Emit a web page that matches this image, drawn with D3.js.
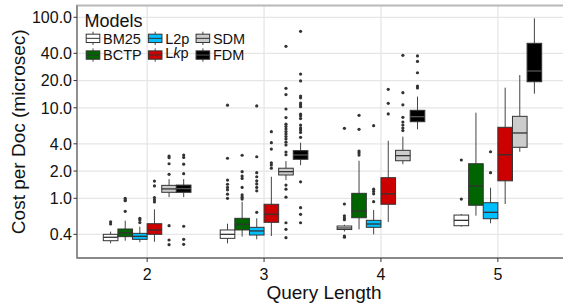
<!DOCTYPE html>
<html>
<head>
<meta charset="utf-8">
<script src="https://cdn.jsdelivr.net/npm/d3@7"></script>
<style>
  body { margin: 0; background: #fff; }
  text { font-family: "Liberation Sans", Arial, sans-serif; fill: #111; }
</style>
</head>
<body>
<svg id="chart" width="563" height="305"></svg>
<script>
// query lengths on the x axis, models dodged inside each one
var lengths = ["2", "3", "4", "5"];
var models = ["BM25", "BCTP", "L2p", "Lkp", "SDM", "FDM"];
var fills = ["#ffffff", "#006400", "#00bfff", "#cc0000", "#cccccc", "#000000"];
var yTicks = [0.4, 1, 2, 4, 10, 20, 40, 100];

// box stats per query length: [lower whisker, q1, median, q3, upper whisker]
var bm25 = [[0.318, 0.340, 0.371, 0.400, 0.428], [0.318, 0.361, 0.400, 0.447, 0.524],
            [0.430, 0.452, 0.470, 0.494, 0.510], [0.487, 0.498, 0.571, 0.653, 0.670]];
var bctp = [[0.340, 0.377, 0.417, 0.458, 0.566], [0.377, 0.447, 0.516, 0.601, 0.917],
            [0.454, 0.610, 0.724, 1.135, 2.60], [0.643, 0.838, 1.37, 2.41, 8.83]];
var l2p  = [[0.327, 0.352, 0.380, 0.410, 0.486], [0.352, 0.393, 0.436, 0.478, 0.601],
            [0.400, 0.478, 0.520, 0.571, 0.743], [0.530, 0.595, 0.700, 0.894, 1.31]];
var lkp  = [[0.331, 0.400, 0.447, 0.524, 0.755], [0.383, 0.543, 0.666, 0.859, 1.73],
            [0.547, 0.859, 1.12, 1.69, 4.33], [0.865, 1.56, 3.03, 6.09, 16.7]];
var sdm  = [[1.03, 1.165, 1.27, 1.39, 1.63], [1.59, 1.81, 1.97, 2.15, 2.58],
            [2.38, 2.60, 2.96, 3.39, 4.8], [3.27, 3.66, 5.27, 8.05, 23.0]];
var fdm  = [[1.03, 1.165, 1.28, 1.40, 1.63], [2.32, 2.70, 3.01, 3.36, 4.12],
            [5.78, 7.02, 7.98, 9.38, 13.3], [14.3, 19.4, 25.5, 51.6, 97.5]];

// outliers per query length
var bm25Out = [[0.551, 0.520], [10.7, 2.77, 1.59, 1.43, 1.32, 1.24, 1.11, 1.0],
               [5.93, 0.865, 0.64, 0.606, 0.58, 0.383, 0.372], [2.65, 0.98]];
var bctpOut = [[0.718, 1.0, 0.96, 0.94], [2.99, 1.97, 1.76, 1.66, 1.32, 1.09, 1.03, 0.98],
               [8.26, 5.78, 3.33, 3.18, 3.0], []];
var l2pOut  = [[0.601, 0.577, 0.54], [10.5, 2.88, 1.92, 1.73, 1.56, 1.44, 1.32, 1.21, 0.70],
               [6.34, 1.26, 1.19, 1.12, 0.917], [3.27, 1.92]];
var lkpOut  = [[1.55, 1.37, 1.02, 0.96, 0.91], [5.45, 4.12, 3.5, 2.47, 2.34, 2.15],
               [16.0, 11.2, 8.55], []];
var sdmOut  = [[2.93, 2.81, 2.41, 1.84, 0.498, 0.346, 0.307],
               [47.8, 16.4, 14.0, 9.7, 7.8, 6.6, 6.2, 5.83, 5.46, 5.14, 4.82, 4.52, 4.17, 3.88, 3.25, 3.03,
                1.40, 1.26, 1.03, 0.537, 0.454, 0.367],
               [38.0, 14.7, 10.8, 7.85, 6.97, 6.46, 5.98, 5.6], []];
var fdmOut  = [[3.0, 2.83, 2.38, 1.87, 0.491, 0.352, 0.31],
               [70.0, 23.6, 19.8, 13.5, 12.9, 11.3, 10.8, 10.3, 8.5, 8.1, 7.6, 6.45, 6.0, 5.7, 5.34, 4.72,
                1.52, 0.787, 0.666, 0.537],
               [37.4, 32.5, 24.4, 17.4, 16.6], []];

var stats = [bm25, bctp, l2p, lkp, sdm, fdm];
var outs = [bm25Out, bctpOut, l2pOut, lkpOut, sdmOut, fdmOut];

(function () {
    var svg = d3.select("#chart");
    var left = 77, right = 568, top = 5.5, bottom = 258;

    var x = d3.scalePoint().domain(lengths).range([left, right]).padding(0.6);
    var step = x.step();
    var dodge = d3.scaleBand().domain(models).range([-0.375 * step, 0.375 * step]);
    var y = d3.scaleLog().domain([0.219, 135]).range([bottom, top]);

    // grid
    svg.append("g").selectAll("line.h").data(yTicks).enter().append("line")
        .attr("x1", left).attr("x2", right)
        .attr("y1", function (d) { return y(d); }).attr("y2", function (d) { return y(d); })
        .attr("stroke", "#e6e6e6").attr("stroke-width", 1.3);
    svg.append("g").selectAll("line.v").data(lengths).enter().append("line")
        .attr("x1", function (d) { return x(d); }).attr("x2", function (d) { return x(d); })
        .attr("y1", top).attr("y2", bottom)
        .attr("stroke", "#e6e6e6").attr("stroke-width", 1.3);

    svg.append("rect").attr("x", left).attr("y", top)
        .attr("width", right - left).attr("height", bottom - top)
        .attr("fill", "none").attr("stroke", "#b8b8b8").attr("stroke-width", 2);

    // boxes
    var rows = [];
    models.forEach(function (m, mi) {
        lengths.forEach(function (l, li) {
            rows.push({model: m, mi: mi, len: l, s: stats[mi][li], out: outs[mi][li]});
        });
    });
    var bw = dodge.bandwidth();
    var g = svg.append("g").selectAll("g").data(rows).enter().append("g")
        .attr("transform", function (d) { return "translate(" + (x(d.len) + dodge(d.model)) + ",0)"; });

    g.append("line").attr("x1", bw / 2).attr("x2", bw / 2)
        .attr("y1", function (d) { return y(d.s[0]); }).attr("y2", function (d) { return y(d.s[1]); })
        .attr("stroke", "#444");
    g.append("line").attr("x1", bw / 2).attr("x2", bw / 2)
        .attr("y1", function (d) { return y(d.s[3]); }).attr("y2", function (d) { return y(d.s[4]); })
        .attr("stroke", "#444");
    g.append("rect").attr("x", 0).attr("width", bw)
        .attr("y", function (d) { return y(d.s[3]); })
        .attr("height", function (d) { return y(d.s[1]) - y(d.s[3]); })
        .attr("fill", function (d) { return fills[d.mi]; })
        .attr("stroke", "#333").attr("stroke-width", 1);
    g.append("line").attr("x1", 0).attr("x2", bw)
        .attr("y1", function (d) { return y(d.s[2]); }).attr("y2", function (d) { return y(d.s[2]); })
        .attr("stroke", function (d) { return d.mi == 5 ? "#555" : "#333"; }).attr("stroke-width", 1.3);
    g.selectAll("circle").data(function (d) { return d.out; }).enter().append("circle")
        .attr("cx", bw / 2).attr("cy", function (d) { return y(d); })
        .attr("r", 1.6).attr("fill", "#333");

    // axes
    svg.append("line").attr("x1", left).attr("x2", right).attr("y1", bottom).attr("y2", bottom)
        .attr("stroke", "#7a7a7a").attr("stroke-width", 1.3);
    svg.append("line").attr("x1", left).attr("x2", left).attr("y1", top).attr("y2", bottom)
        .attr("stroke", "#7a7a7a").attr("stroke-width", 1.3);

    svg.append("g").selectAll("line").data(yTicks).enter().append("line")
        .attr("x1", left - 3.5).attr("x2", left)
        .attr("y1", function (d) { return y(d); }).attr("y2", function (d) { return y(d); })
        .attr("stroke", "#333");
    svg.append("g").selectAll("text").data(yTicks).enter().append("text")
        .text(function (d) { return d3.format(".1f")(d); })
        .attr("x", left - 5).attr("y", function (d) { return y(d); })
        .attr("dy", "0.36em").attr("text-anchor", "end").style("font-size", "16px");

    svg.append("g").selectAll("line").data(lengths).enter().append("line")
        .attr("x1", function (d) { return x(d); }).attr("x2", function (d) { return x(d); })
        .attr("y1", bottom).attr("y2", bottom + 4)
        .attr("stroke", "#333");
    svg.append("g").selectAll("text").data(lengths).enter().append("text")
        .text(function (d) { return d; })
        .attr("x", function (d) { return x(d); }).attr("y", bottom + 22)
        .attr("text-anchor", "middle").style("font-size", "16px");

    svg.append("text").text("Query Length")
        .attr("x", (left + 563) / 2 + 4).attr("y", 298.5)
        .attr("text-anchor", "middle").style("font-size", "19px");
    svg.append("text").text("Cost per Doc (microsec)")
        .attr("transform", "translate(25," + ((top + bottom) / 2) + ") rotate(-90)")
        .attr("text-anchor", "middle").style("font-size", "19px");

    // legend
    var leg = svg.append("g");
    leg.append("text").text("Models").attr("x", 84.5).attr("y", 26.7).style("font-size", "18px");
    var keyW = 17, keyH = 16.7, colX = 84.5;
    var ncol = Math.ceil(models.length / 2);
    for (var c = 0; c < ncol; c++) {
        var maxW = 0;
        for (var r = 0; r < 2; r++) {
            var i = c * 2 + r;
            var ky = 30 + r * keyH;
            var k = leg.append("g").attr("transform", "translate(" + colX + "," + ky + ")");
            k.append("line").attr("x1", keyW / 2).attr("x2", keyW / 2).attr("y1", keyH * 0.1).attr("y2", keyH * 0.25).attr("stroke", "#444");
            k.append("line").attr("x1", keyW / 2).attr("x2", keyW / 2).attr("y1", keyH * 0.75).attr("y2", keyH * 0.9).attr("stroke", "#444");
            k.append("rect").attr("x", keyW * 0.1).attr("width", keyW * 0.8)
                .attr("y", keyH * 0.25).attr("height", keyH * 0.5)
                .attr("fill", fills[i]).attr("stroke", "#333");
            k.append("line").attr("x1", keyW * 0.1).attr("x2", keyW * 0.9).attr("y1", keyH / 2).attr("y2", keyH / 2)
                .attr("stroke", i == 5 ? "#555" : "#333");
            var t = leg.append("text").attr("x", colX + keyW + 1.5).attr("y", ky + keyH * 0.5)
                .attr("dy", "0.36em").style("font-size", "14.5px");
            if (models[i] == "Lkp") {
                t.attr("dy", "0.22em");
                t.append("tspan").text("L");
                t.append("tspan").text("k").style("font-style", "italic");
                t.append("tspan").text("p");
            } else {
                t.text(models[i]);
            }
            maxW = Math.max(maxW, t.node().getComputedTextLength());
        }
        colX += keyW + 1.5 + maxW + 5;
    }
})();
</script>
</body>
</html>
